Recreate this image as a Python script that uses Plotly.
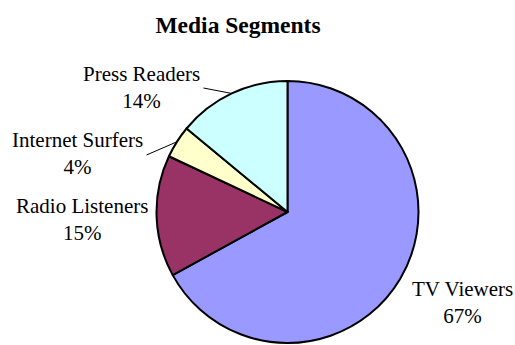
import math
import plotly.graph_objects as go

categories = ["TV Viewers", "Radio Listeners", "Internet Surfers", "Press Readers"]
values = [67, 15, 4, 14]
colors = ["#9999FF", "#993366", "#FFFFCC", "#CCFFFF"]

W, H = 515, 345
# pie geometry in pixels (layout)
CX, CY, R = 287.5, 212.0, 131.0
# label layout: (x px, y px, xanchor, leader line?)
label_layout = [
    (462, 302, "center", False),
    (81.5, 220, "center", False),
    (145, 154, "right", True),
    (202, 87, "right", True),
]

fig = go.Figure(go.Pie(
    labels=categories,
    values=values,
    sort=False,
    direction="clockwise",
    rotation=0,
    marker=dict(colors=colors, line=dict(color="black", width=2)),
    textinfo="none",
    domain=dict(x=[(CX - R) / W, (CX + R) / W], y=[1 - (CY + R) / H, 1 - (CY - R) / H]),
    showlegend=False,
    hoverinfo="label+percent",
))

total = sum(values)
cum = 0
annotations = []
shapes = []
for cat, v, (lx, ly, xa, leader) in zip(categories, values, label_layout):
    pct = round(100 * v / total)
    mid = (cum + v / 2) / total * 2 * math.pi
    cum += v
    annotations.append(dict(
        x=lx / W, y=1 - ly / H, xref="paper", yref="paper",
        xanchor=xa, yanchor="middle", align="center", showarrow=False,
        text=f"{cat}<br>{pct}%",
        font=dict(family="Liberation Serif", size=21, color="black"),
    ))
    if leader:
        ex = CX + R * math.sin(mid)
        ey = CY - R * math.cos(mid)
        shapes.append(dict(
            type="line", xref="paper", yref="paper",
            x0=ex / W, y0=1 - ey / H, x1=(lx + 1.5) / W, y1=1 - (ly + 1) / H,
            line=dict(color="black", width=1),
        ))

fig.update_layout(
    width=W, height=H,
    margin=dict(l=0, r=0, t=0, b=0),
    paper_bgcolor="white",
    plot_bgcolor="white",
    title=dict(text="<b>Media Segments</b>", x=238 / W, xanchor="center", y=1 - 25 / H, yanchor="middle",
               font=dict(family="Liberation Serif", size=23.5, color="black")),
    annotations=annotations,
    shapes=shapes,
)

fig.write_html("out.html", config={"displayModeBar": False},
               post_script="document.body.style.margin='0px';document.body.style.padding='0px';")
